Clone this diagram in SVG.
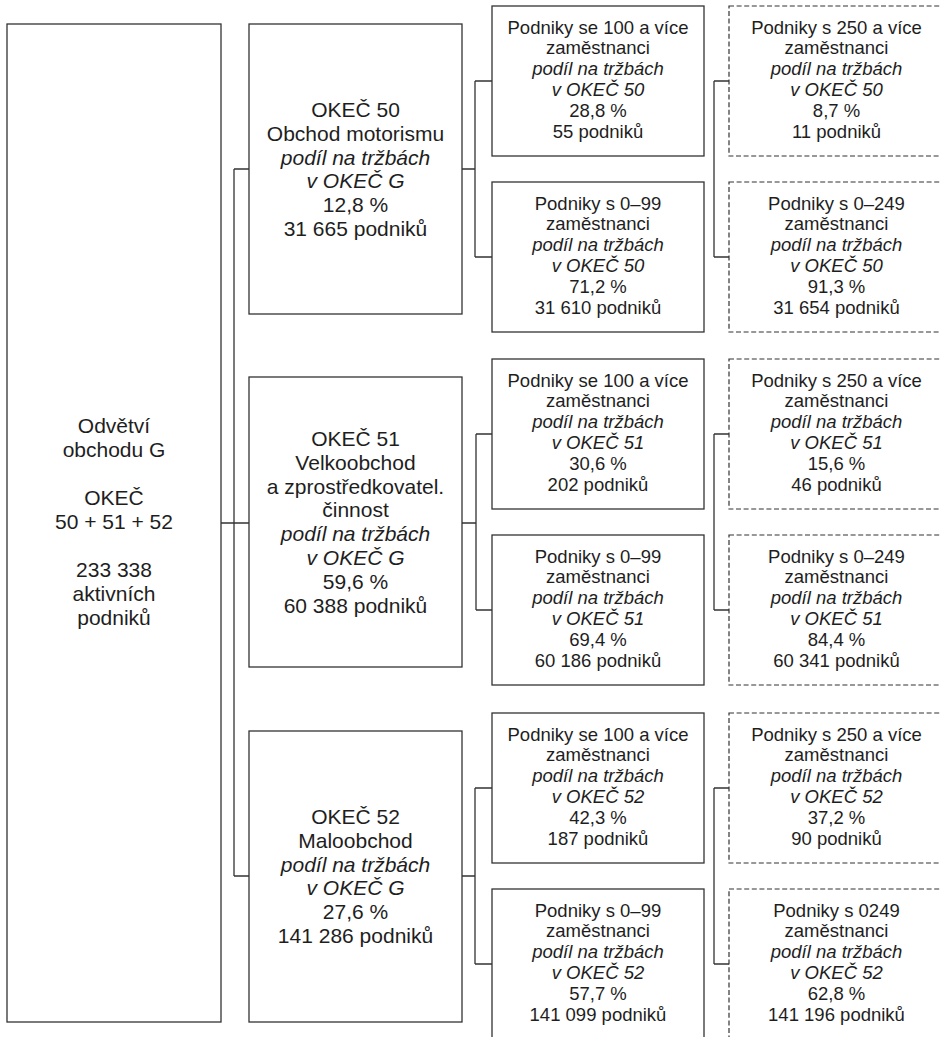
<svg xmlns="http://www.w3.org/2000/svg" width="940" height="1037" viewBox="0 0 940 1037">
<style>
.bx{fill:#fff;stroke:#333;stroke-width:1.3}
.ds{fill:#fff;stroke:#333;stroke-width:1.2;stroke-dasharray:5 2.6}
.ln{fill:none;stroke:#333;stroke-width:1.3}
text{font-family:"Liberation Sans",Arial,sans-serif;fill:#1e1e1e;text-anchor:middle}
.big{font-size:21px}
.sm{font-size:18.5px}
.it{font-style:italic}
</style>
<rect width="940" height="1037" fill="#fff"/>
<g id="connectors">
<path class="ln" d="M234,169 V876 M234,169 H249 M221,523 H249 M234,876 H249"/>
<path class="ln" d="M462,169 H475 M475,81 V257 M475,81 H492 M475,257 H492"/>
<path class="ln" d="M462,523 H476 M476,434 V610 M476,434 H492 M476,610 H492"/>
<path class="ln" d="M462,876 H475 M475,788 V964 M475,788 H492 M475,964 H492"/>
<path class="ln" d="M714,81 V257 M714,81 H729 M714,257 H729"/>
<path class="ln" d="M714,434 V610 M714,434 H729 M714,610 H729"/>
<path class="ln" d="M714,788 V964 M714,788 H729 M714,964 H729"/>
</g>
<g id="root">
<rect class="bx" x="7" y="24" width="214" height="998"/>
<text class="big"><tspan x="114" y="433">Odvětví</tspan><tspan x="114" y="457">obchodu G</tspan><tspan x="114" y="505">OKEČ</tspan><tspan x="114" y="529">50 + 51 + 52</tspan><tspan x="114" y="577">233 338</tspan><tspan x="114" y="601">aktivních</tspan><tspan x="114" y="625">podniků</tspan></text>
</g>
<g id="okec50">
<rect class="bx" x="249" y="24" width="213" height="290"/>
<text class="big"><tspan x="355.5" y="117">OKEČ 50</tspan><tspan x="355.5" y="140.8">Obchod motorismu</tspan><tspan x="355.5" y="164.6" class="it">podíl na tržbách</tspan><tspan x="355.5" y="188.4" class="it">v OKEČ G</tspan><tspan x="355.5" y="212.2">12,8 %</tspan><tspan x="355.5" y="236">31 665 podniků</tspan></text>
</g>
<g id="okec51">
<rect class="bx" x="249" y="377" width="213" height="290"/>
<text class="big"><tspan x="355.5" y="446">OKEČ 51</tspan><tspan x="355.5" y="469.8">Velkoobchod</tspan><tspan x="355.5" y="493.6">a zprostředkovatel.</tspan><tspan x="355.5" y="517.4">činnost</tspan><tspan x="355.5" y="541.2" class="it">podíl na tržbách</tspan><tspan x="355.5" y="565" class="it">v OKEČ G</tspan><tspan x="355.5" y="588.8">59,6 %</tspan><tspan x="355.5" y="612.6">60 388 podniků</tspan></text>
</g>
<g id="okec52">
<rect class="bx" x="249" y="731" width="213" height="291"/>
<text class="big"><tspan x="355.5" y="824">OKEČ 52</tspan><tspan x="355.5" y="847.8">Maloobchod</tspan><tspan x="355.5" y="871.6" class="it">podíl na tržbách</tspan><tspan x="355.5" y="895.4" class="it">v OKEČ G</tspan><tspan x="355.5" y="919.2">27,6 %</tspan><tspan x="355.5" y="943">141 286 podniků</tspan></text>
</g>
<g id="g50-100">
<rect class="bx" x="492" y="6" width="212" height="150"/>
<text class="sm"><tspan x="598" y="33.5">Podniky se 100 a více</tspan><tspan x="598" y="54.3">zaměstnanci</tspan><tspan x="598" y="75.1" class="it">podíl na tržbách</tspan><tspan x="598" y="95.9" class="it">v OKEČ 50</tspan><tspan x="598" y="116.7">28,8 %</tspan><tspan x="598" y="137.5">55 podniků</tspan></text>
</g>
<g id="g50-099">
<rect class="bx" x="492" y="182" width="212" height="150"/>
<text class="sm"><tspan x="598" y="209.5">Podniky s 0–99</tspan><tspan x="598" y="230.3">zaměstnanci</tspan><tspan x="598" y="251.1" class="it">podíl na tržbách</tspan><tspan x="598" y="271.9" class="it">v OKEČ 50</tspan><tspan x="598" y="292.7">71,2 %</tspan><tspan x="598" y="313.5">31 610 podniků</tspan></text>
</g>
<g id="g50-250">
<rect class="ds" x="729" y="6" width="216" height="150"/>
<text class="sm"><tspan x="836.5" y="33.5">Podniky s 250 a více</tspan><tspan x="836.5" y="54.3">zaměstnanci</tspan><tspan x="836.5" y="75.1" class="it">podíl na tržbách</tspan><tspan x="836.5" y="95.9" class="it">v OKEČ 50</tspan><tspan x="836.5" y="116.7">8,7 %</tspan><tspan x="836.5" y="137.5">11 podniků</tspan></text>
</g>
<g id="g50-0249">
<rect class="ds" x="729" y="182" width="216" height="150"/>
<text class="sm"><tspan x="836.5" y="209.5">Podniky s 0–249</tspan><tspan x="836.5" y="230.3">zaměstnanci</tspan><tspan x="836.5" y="251.1" class="it">podíl na tržbách</tspan><tspan x="836.5" y="271.9" class="it">v OKEČ 50</tspan><tspan x="836.5" y="292.7">91,3 %</tspan><tspan x="836.5" y="313.5">31 654 podniků</tspan></text>
</g>
<g id="g51-100">
<rect class="bx" x="492" y="359" width="212" height="150"/>
<text class="sm"><tspan x="598" y="386.5">Podniky se 100 a více</tspan><tspan x="598" y="407.3">zaměstnanci</tspan><tspan x="598" y="428.1" class="it">podíl na tržbách</tspan><tspan x="598" y="448.9" class="it">v OKEČ 51</tspan><tspan x="598" y="469.7">30,6 %</tspan><tspan x="598" y="490.5">202 podniků</tspan></text>
</g>
<g id="g51-099">
<rect class="bx" x="492" y="535" width="212" height="150"/>
<text class="sm"><tspan x="598" y="562.5">Podniky s 0–99</tspan><tspan x="598" y="583.3">zaměstnanci</tspan><tspan x="598" y="604.1" class="it">podíl na tržbách</tspan><tspan x="598" y="624.9" class="it">v OKEČ 51</tspan><tspan x="598" y="645.7">69,4 %</tspan><tspan x="598" y="666.5">60 186 podniků</tspan></text>
</g>
<g id="g51-250">
<rect class="ds" x="729" y="359" width="216" height="150"/>
<text class="sm"><tspan x="836.5" y="386.5">Podniky s 250 a více</tspan><tspan x="836.5" y="407.3">zaměstnanci</tspan><tspan x="836.5" y="428.1" class="it">podíl na tržbách</tspan><tspan x="836.5" y="448.9" class="it">v OKEČ 51</tspan><tspan x="836.5" y="469.7">15,6 %</tspan><tspan x="836.5" y="490.5">46 podniků</tspan></text>
</g>
<g id="g51-0249">
<rect class="ds" x="729" y="535" width="216" height="150"/>
<text class="sm"><tspan x="836.5" y="562.5">Podniky s 0–249</tspan><tspan x="836.5" y="583.3">zaměstnanci</tspan><tspan x="836.5" y="604.1" class="it">podíl na tržbách</tspan><tspan x="836.5" y="624.9" class="it">v OKEČ 51</tspan><tspan x="836.5" y="645.7">84,4 %</tspan><tspan x="836.5" y="666.5">60 341 podniků</tspan></text>
</g>
<g id="g52-100">
<rect class="bx" x="492" y="713" width="212" height="150"/>
<text class="sm"><tspan x="598" y="740.5">Podniky se 100 a více</tspan><tspan x="598" y="761.3">zaměstnanci</tspan><tspan x="598" y="782.1" class="it">podíl na tržbách</tspan><tspan x="598" y="802.9" class="it">v OKEČ 52</tspan><tspan x="598" y="823.7">42,3 %</tspan><tspan x="598" y="844.5">187 podniků</tspan></text>
</g>
<g id="g52-099">
<rect class="bx" x="492" y="889" width="212" height="160"/>
<text class="sm"><tspan x="598" y="916.5">Podniky s 0–99</tspan><tspan x="598" y="937.3">zaměstnanci</tspan><tspan x="598" y="958.1" class="it">podíl na tržbách</tspan><tspan x="598" y="978.9" class="it">v OKEČ 52</tspan><tspan x="598" y="999.7">57,7 %</tspan><tspan x="598" y="1020.5">141 099 podniků</tspan></text>
</g>
<g id="g52-250">
<rect class="ds" x="729" y="713" width="216" height="150"/>
<text class="sm"><tspan x="836.5" y="740.5">Podniky s 250 a více</tspan><tspan x="836.5" y="761.3">zaměstnanci</tspan><tspan x="836.5" y="782.1" class="it">podíl na tržbách</tspan><tspan x="836.5" y="802.9" class="it">v OKEČ 52</tspan><tspan x="836.5" y="823.7">37,2 %</tspan><tspan x="836.5" y="844.5">90 podniků</tspan></text>
</g>
<g id="g52-0249">
<rect class="ds" x="729" y="889" width="216" height="160"/>
<text class="sm"><tspan x="836.5" y="916.5">Podniky s 0249</tspan><tspan x="836.5" y="937.3">zaměstnanci</tspan><tspan x="836.5" y="958.1" class="it">podíl na tržbách</tspan><tspan x="836.5" y="978.9" class="it">v OKEČ 52</tspan><tspan x="836.5" y="999.7">62,8 %</tspan><tspan x="836.5" y="1020.5">141 196 podniků</tspan></text>
</g>
</svg>
